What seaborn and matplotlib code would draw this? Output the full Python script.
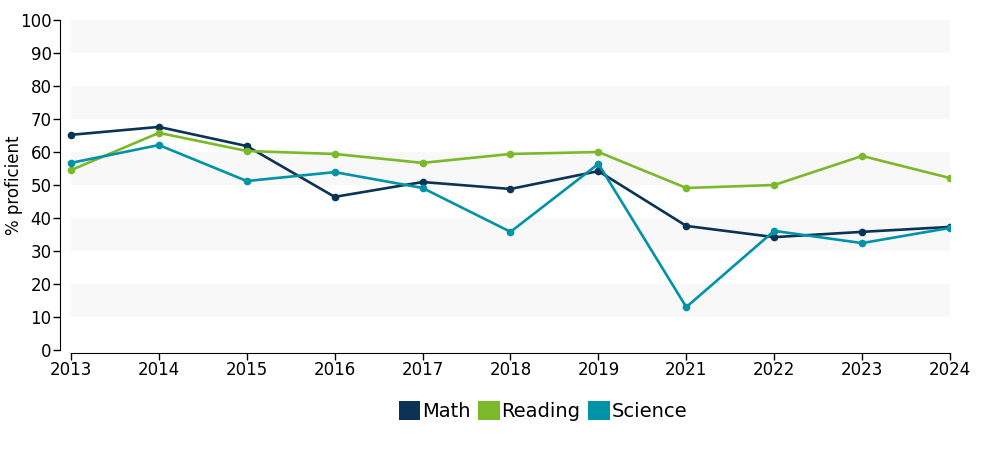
import matplotlib
matplotlib.use("Agg")
import matplotlib.pyplot as plt
import matplotlib.patches as mpatches
import seaborn as sns
import pandas as pd

years = ["2013", "2014", "2015", "2016", "2017", "2018", "2019", "2021", "2022", "2023", "2024"]
math = [65.2, 67.6, 61.8, 46.4, 50.9, 48.8, 54.2, 37.6, 34.2, 35.8, 37.3]
reading = [54.5, 65.8, 60.3, 59.4, 56.7, 59.4, 60.0, 49.1, 50.0, 58.8, 52.1]
science = [56.7, 62.1, 51.2, 53.9, 49.1, 35.8, 56.4, 13.0, 36.1, 32.4, 37.0]
subjects = ["Math", "Reading", "Science"]
colors = ["#0a3355", "#7ab929", "#0093a8"]

rows = []
for subj, vals in zip(subjects, [math, reading, science]):
    for i, (y, v) in enumerate(zip(years, vals)):
        rows.append({"pos": i, "year": y, "subject": subj, "value": v})
df = pd.DataFrame(rows)

sns.set_style("white")
plt.rcParams["font.family"] = ["DejaVu Sans"]
plt.rcParams["text.color"] = "black"
plt.rcParams["axes.labelcolor"] = "black"

fig = plt.figure(figsize=(10, 4.5), dpi=100)
ax = fig.add_axes([0.06, 0.2222, 0.89, 0.7334])

# alternating bands
for lo in range(10, 100, 20):
    ax.fill_between([0, len(years) - 1], lo, lo + 10, color="#f8f8f8", lw=0, zorder=0)

sns.lineplot(data=df, x="pos", y="value", hue="subject", hue_order=subjects,
             palette=colors, marker="o", markersize=5.5, markeredgewidth=0,
             linewidth=1.9, sort=False, legend=False, ax=ax, zorder=3)

ax.set_xlim(-0.125, len(years) - 1)
ax.set_ylim(0, 100)
ax.set_xticks(range(len(years)))
ax.set_xticklabels(years)
ax.set_yticks(range(0, 101, 10))
ax.tick_params(axis="both", labelsize=12, length=5, width=1, direction="out",
               colors="black", pad=1)
ax.tick_params(axis="both", which="both", bottom=True, left=True)
for s in ["top", "right"]:
    ax.spines[s].set_visible(False)
ax.spines["left"].set_color("black")
ax.spines["bottom"].set_color("black")
ax.spines["bottom"].set_bounds(0, len(years) - 1)
ax.spines["bottom"].set_position(("outward", 2))
ax.set_xlabel("")
ax.set_ylabel("% proficient", fontsize=12)
ax.yaxis.set_label_coords(-0.0416, 0.5)
ax.grid(False)

handles = [mpatches.Patch(facecolor=c, edgecolor="none", label=s) for s, c in zip(subjects, colors)]
fig.legend(handles=handles, loc="center", bbox_to_anchor=(0.543, 0.087), ncol=3,
           frameon=False, fontsize=14, handlelength=1.1, handleheight=1.1,
           handletextpad=0.1, columnspacing=0.4)

fig.savefig("out.png", dpi=100)
